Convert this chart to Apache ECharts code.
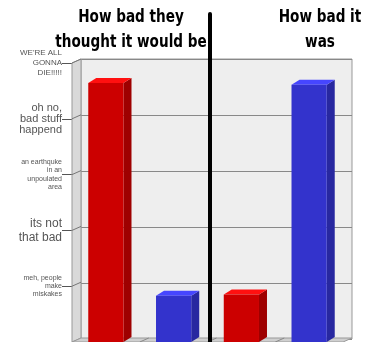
<!DOCTYPE html>
<html><head><meta charset="utf-8">
<script src="https://cdn.jsdelivr.net/npm/echarts@6/dist/echarts.min.js"></script>
<style>html,body{margin:0;padding:0;background:#fff}#c{width:375px;height:342px}</style>
</head><body><div id="c"></div>
<script>
var categories = ['thought A', 'thought B', 'was A', 'was B'];
var barValues = [4.64, 0.83, 0.85, 4.61];
var barKinds = ['red', 'blue', 'red', 'blue'];
var tickLabels = [
  '',
  '{s|meh, people\nmake\nmiskakes}',
  '{l|its not\nthat bad}',
  '{s|an earthquke\nin an\nunpoulated\narea}',
  '{m|oh no,\nbad stuff\nhappend}',
  '{t|WE\'RE ALL\nGONNA\nDIE!!!!!}'
];
var titleLeft = 'How bad they\nthought it would be';
var titleRight = 'How bad it\nwas';

var palette = {
  red: {front: '#cc0000', side: '#9e0000', top: '#ff1010'},
  blue: {front: '#3333cc', side: '#2828a0', top: '#4646ff'}
};
var WDX = 9, WDY = -4, BDX = 8, BDY = -5;
var TITLE_FONT = 'bold 17px "DejaVu Sans", sans-serif';

var chart = echarts.init(document.getElementById('c'));
chart.setOption({
  animation: false,
  grid: [
    {left: 72, top: 63, width: 271, height: 280},
    {left: 81, top: 59, width: 271, height: 280, show: true, backgroundColor: '#eeeeee', borderColor: '#999', borderWidth: 1}
  ],
  xAxis: [
    {gridIndex: 0, type: 'category', data: categories, axisLine: {show: false}, axisTick: {show: false}, axisLabel: {show: false}},
    {gridIndex: 1, type: 'category', data: categories, axisLine: {show: false}, axisTick: {show: false}, axisLabel: {show: false}}
  ],
  yAxis: [
    {gridIndex: 0, type: 'value', min: 0, max: 5, interval: 1,
     axisLine: {show: true, lineStyle: {color: '#999'}},
     axisTick: {show: true, length: 10, lineStyle: {color: '#555'}},
     splitLine: {show: false},
     axisLabel: {margin: 10, align: 'right', color: '#555', fontFamily: 'Liberation Sans',
       formatter: function (v) { return tickLabels[Math.round(v)] || ''; },
       rich: {
         t: {fontSize: 8, lineHeight: 10, color: '#555', fontFamily: 'Liberation Sans', align: 'right'},
         m: {fontSize: 11, lineHeight: 11, color: '#555', fontFamily: 'Liberation Sans', align: 'right'},
         s: {fontSize: 7, lineHeight: 8.3, color: '#555', fontFamily: 'Liberation Sans', align: 'right'},
         l: {fontSize: 12, lineHeight: 14, color: '#555', fontFamily: 'Liberation Sans', align: 'right'}
       }}},
    {gridIndex: 1, type: 'value', min: 0, max: 5, interval: 1,
     axisLine: {show: false}, axisTick: {show: false}, axisLabel: {show: false},
     splitLine: {show: true, lineStyle: {color: '#888', width: 1}}}
  ],
  series: [
    {
      type: 'custom', xAxisIndex: 0, yAxisIndex: 0, z: 1, silent: true,
      data: [[0, 0]],
      renderItem: function (params, api) {
        var cs = params.coordSys;
        var x = cs.x, y = cs.y, h = cs.height, w = cs.width;
        var children = [];
        children.push({type: 'polygon', shape: {points: [[x, y], [x + WDX, y + WDY], [x + WDX, y + h + WDY], [x, y + h]]},
          style: {fill: '#d9d9d9', stroke: '#999', lineWidth: 1}});
        children.push({type: 'polygon', shape: {points: [[x, y + h], [x + WDX, y + h + WDY], [x + w + WDX, y + h + WDY], [x + w, y + h]]},
          style: {fill: '#cfcfcf', stroke: '#999', lineWidth: 1}});
        for (var v = 1; v <= 5; v++) {
          var py = api.coord([0, v])[1];
          children.push({type: 'line', shape: {x1: x, y1: py, x2: x + WDX, y2: py + WDY}, style: {stroke: '#777', lineWidth: 1}});
        }
        var band = api.size([1, 0])[0];
        for (var k = 1; k < categories.length; k++) {
          var bx = x + band * k;
          children.push({type: 'line', shape: {x1: bx, y1: y + h, x2: bx + WDX, y2: y + h + WDY}, style: {stroke: '#888', lineWidth: 1}});
        }
        return {type: 'group', children: children};
      }
    },
    {
      type: 'custom', xAxisIndex: 0, yAxisIndex: 0, z: 3, silent: true,
      data: barValues.map(function (v, i) { return [i, v]; }),
      renderItem: function (params, api) {
        var i = api.value(0), v = api.value(1);
        var c = palette[barKinds[params.dataIndex]];
        var top = api.coord([i, v]);
        var base = api.coord([i, 0]);
        var band = api.size([1, 0])[0];
        var bw = band * 0.52;
        var x0 = top[0] - bw / 2, x1 = top[0] + bw / 2, yt = top[1], yb = base[1];
        return {type: 'group', children: [
          {type: 'polygon', shape: {points: [[x1, yt], [x1 + BDX, yt + BDY], [x1 + BDX, yb + BDY], [x1, yb]]}, style: {fill: c.side}},
          {type: 'polygon', shape: {points: [[x0, yt], [x0 + BDX, yt + BDY], [x1 + BDX, yt + BDY], [x1, yt]]}, style: {fill: c.top}},
          {type: 'rect', shape: {x: x0, y: yt, width: bw, height: yb - yt}, style: {fill: c.front}}
        ]};
      }
    }
  ],
  graphic: [
    {type: 'text', z: 50, x: 131, y: 5, scaleX: 0.8,
     style: {text: titleLeft, font: TITLE_FONT, fill: '#000', align: 'center', verticalAlign: 'top', lineHeight: 25}},
    {type: 'text', z: 50, x: 320, y: 5, scaleX: 0.8,
     style: {text: titleRight, font: TITLE_FONT, fill: '#000', align: 'center', verticalAlign: 'top', lineHeight: 25}},
    {type: 'line', z: 100, shape: {x1: 210, y1: 14, x2: 210, y2: 342}, style: {stroke: '#000', lineWidth: 4, lineCap: 'round'}}
  ]
});
</script>
</body></html>
